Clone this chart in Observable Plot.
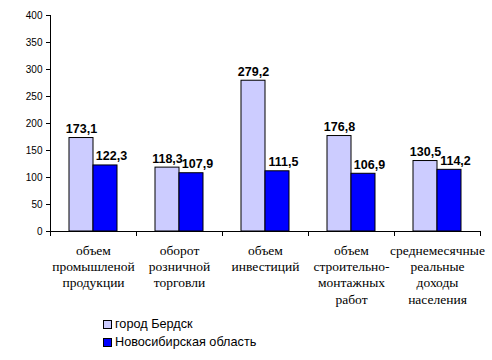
<!DOCTYPE html>
<html><head><meta charset="utf-8">
<script src="https://cdn.jsdelivr.net/npm/d3@7"></script>
<script src="https://cdn.jsdelivr.net/npm/@observablehq/plot@0.6"></script>
<style>
body{margin:0;background:#fff;}
#wrap{position:relative;width:492px;height:360px;overflow:hidden;}
#legend{position:absolute;left:103px;top:315px;font:12.7px "Liberation Sans",Arial,sans-serif;color:#000;}
#legend .row{height:18px;display:flex;align-items:center;}
#legend .sw{width:7px;height:7px;border:1px solid #000;margin-right:3px;}
</style>
</head><body><div id="wrap"></div>
<script>
const categories = [
  "объем\nпромышленой\nпродукции",
  "оборот\nрозничной\nторговли",
  "объем\nинвестиций",
  "объем\nстроительно-\nмонтажных\nработ",
  "среднемесячные\nреальные\nдоходы\nнаселения"
];
const series = ["город Бердск", "Новосибирская область"];
const berdsk = [173.1, 118.3, 279.2, 176.8, 130.5];
const oblast = [122.3, 107.9, 111.5, 106.9, 114.2];
const yTicks = [0, 50, 100, 150, 200, 250, 300, 350, 400];
const colors = ["#CCCCFF", "#0000FF"];

const rows = [];
categories.forEach((c, i) => {
  rows.push({cat: c, series: series[0], value: berdsk[i]});
  rows.push({cat: c, series: series[1], value: oblast[i]});
});
const fmt = d => d.value.toFixed(1).replace(".", ",");
const labelFont = {fontWeight: "bold", fontSize: 12.5, fontFamily: "'Liberation Sans', Arial, sans-serif", lineAnchor: "bottom"};

const plot = Plot.plot({
  width: 492, height: 312,
  marginLeft: 49, marginRight: 11, marginTop: 15, marginBottom: 81,
  style: {fontSize: "10px", background: "#fff"},
  fx: {domain: categories, padding: 0, label: null},
  x: {domain: series, paddingInner: 0, paddingOuter: 0.76, axis: null},
  y: {domain: [0, 400], label: null},
  color: {domain: series, range: colors},
  marks: [
    Plot.barY(rows, {fx: "cat", x: "series", y: "value", fill: "series", stroke: "#000", strokeWidth: 1, inset: 0}),
    Plot.text(rows.filter(d => d.series === series[0]), {fx: "cat", x: "series", y: "value", text: fmt, dy: -5, ...labelFont}),
    Plot.text(rows.filter(d => d.series === series[1]), {fx: "cat", x: "series", y: "value", text: fmt, dy: -5, dx: 6, ...labelFont}),
    Plot.ruleY([0], {stroke: "#000"}),
    Plot.axisY({ticks: yTicks, tickSize: 4, tickPadding: 4, label: null, fontSize: 10, fontFamily: "Liberation Sans"}),
    Plot.axisFx({anchor: "bottom", tickSize: 0, tickPadding: 12, label: null, fontSize: 13.5, lineHeight: 1.2,
      fontFamily: "Liberation Serif", tickFormat: d => d})
  ]
});
document.getElementById("wrap").appendChild(plot);

const svg = d3.select(plot);
svg.selectAll("text").filter(function() { return /[а-яё]/i.test(this.textContent); })
  .attr("font-family", "Liberation Serif")
  .style("font-family", "'Liberation Serif', 'DejaVu Serif', serif")
  .selectAll("tspan")
  .style("font-family", "'Liberation Serif', 'DejaVu Serif', serif");

// axis line and category boundary ticks from the plot's own scales
const ys = plot.scale("y"), fxs = plot.scale("fx");
const y0 = ys.apply(0), yTop = ys.apply(400);
const bounds = categories.map(c => fxs.apply(c));
bounds.push(fxs.apply(categories[categories.length - 1]) + fxs.bandwidth);
const g = svg.append("g").attr("stroke", "#000").attr("shape-rendering", "crispEdges");
g.append("line").attr("x1", bounds[0]).attr("x2", bounds[0]).attr("y1", yTop).attr("y2", y0);
bounds.forEach(b => g.append("line").attr("x1", b).attr("x2", b).attr("y1", y0).attr("y2", y0 + 5));

// legend
const leg = d3.select("#wrap").append("div").attr("id", "legend");
series.forEach((s, i) => {
  const r = leg.append("div").attr("class", "row");
  r.append("div").attr("class", "sw").style("background", colors[i]);
  r.append("span").text(s);
});
</script>
</body></html>
